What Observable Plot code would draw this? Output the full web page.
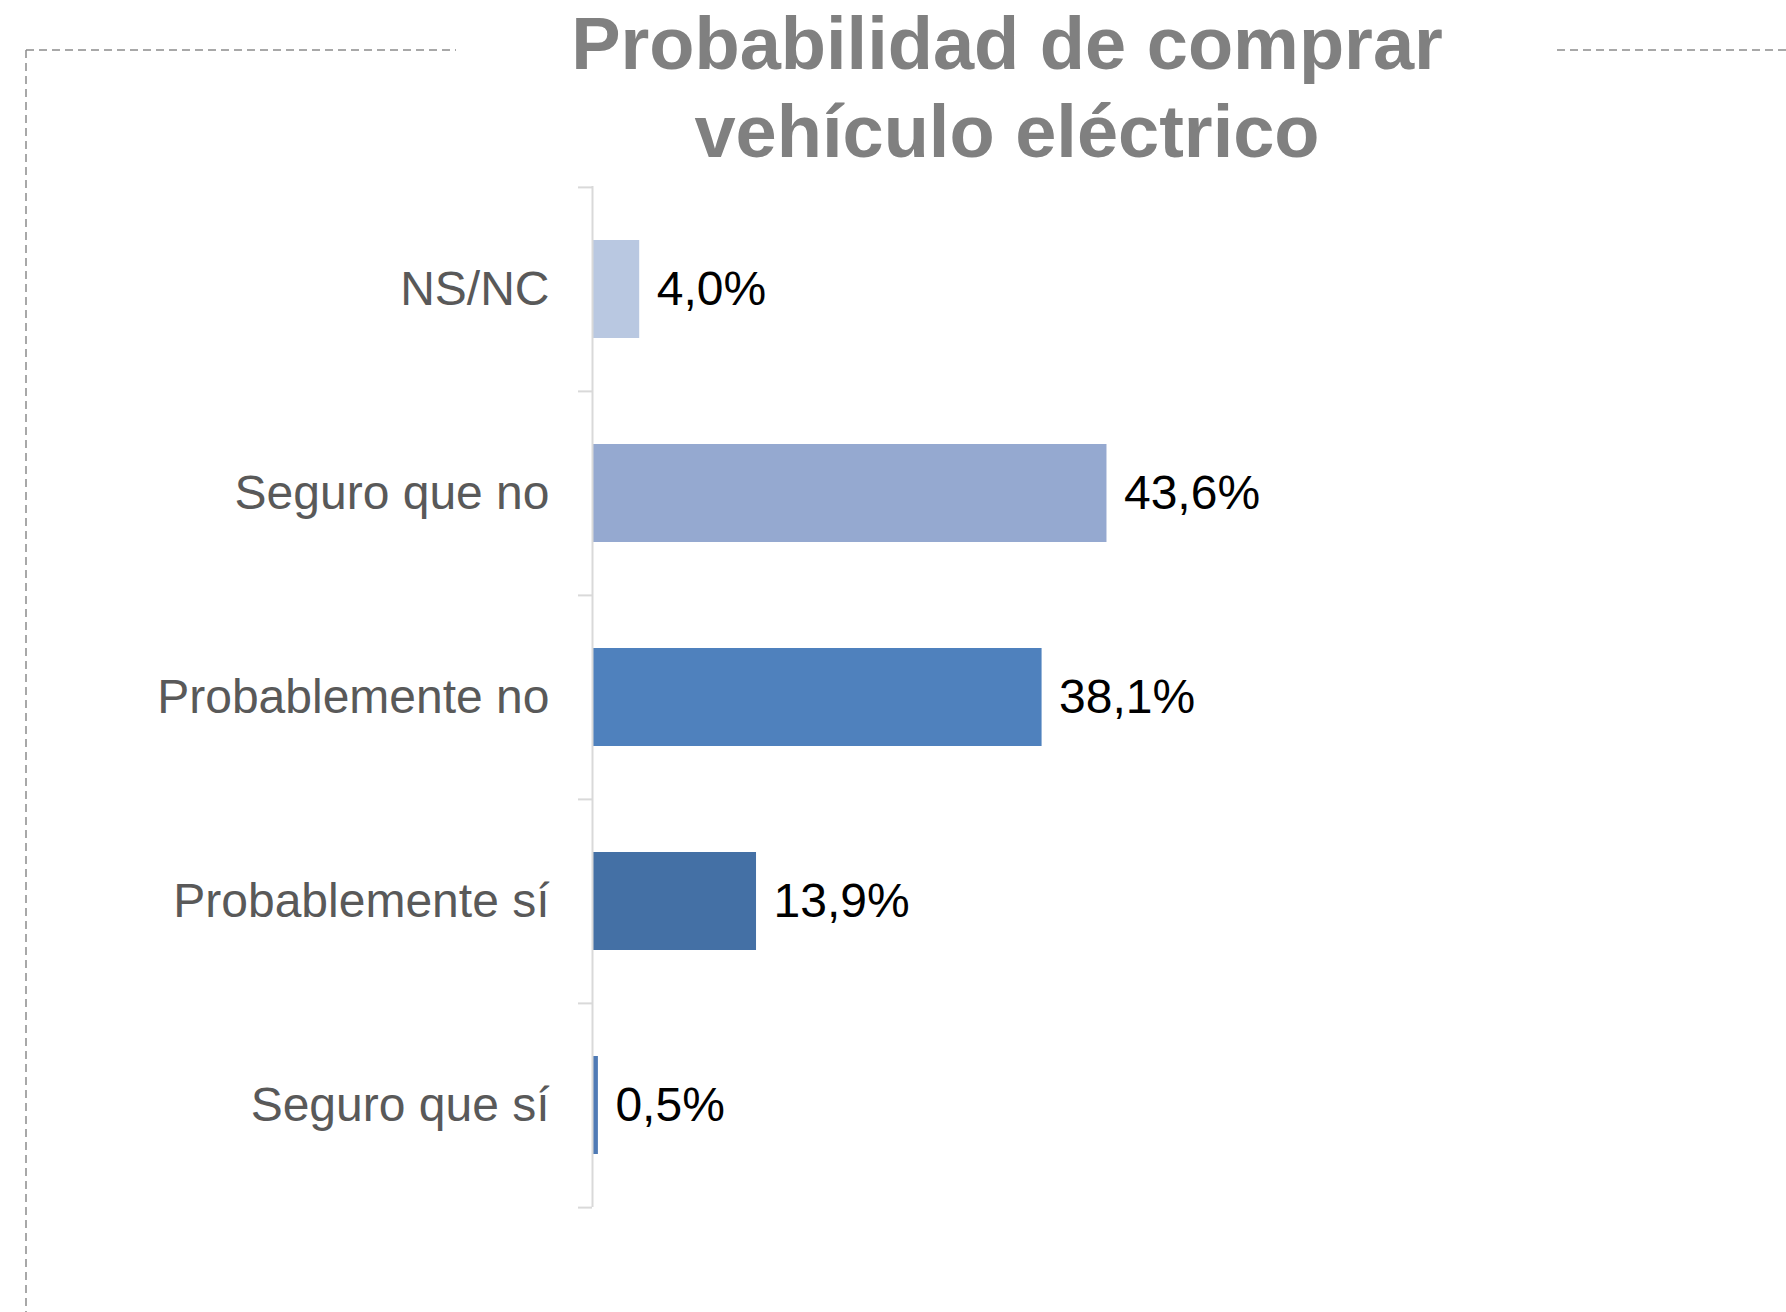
<!DOCTYPE html>
<html>
<head>
<meta charset="utf-8">
<script src="https://cdn.jsdelivr.net/npm/d3@7"></script>
<script src="https://cdn.jsdelivr.net/npm/@observablehq/plot@0.6"></script>
<style>
  html, body { margin: 0; padding: 0; background: #fff; }
  #wrap { position: relative; width: 1786px; height: 1312px; overflow: hidden; font-family: "Liberation Sans", Arial, sans-serif; }
  #frame { position: absolute; left: 0; top: 0; }
  #chart { position: absolute; left: 0; top: 0; }
  #title { position: absolute; top: 0; left: 507px; width: 1000px; text-align: center; font-weight: bold; font-size: 74px; line-height: 88px; color: #808080; }
</style>
</head>
<body>
<div id="wrap">
  <svg id="frame" width="1786" height="1312">
    <g fill="none" stroke="#8c8c8c" stroke-width="1.5" stroke-dasharray="8 5">
      <line x1="26" y1="50" x2="456" y2="50"></line>
      <line x1="1557" y1="50" x2="1786" y2="50"></line>
      <line x1="26" y1="50" x2="26" y2="1312"></line>
    </g>
  </svg>
  <div id="chart"></div>
  <div id="title">Probabilidad de comprar<br>vehículo eléctrico</div>
</div>
<script>
const categories = ["NS/NC", "Seguro que no", "Probablemente no", "Probablemente sí", "Seguro que sí"];
const values = [4.0, 43.6, 38.1, 13.9, 0.5];
const colors = ["#b9c8e1", "#95a9d0", "#4f81bd", "#4470a5", "#4f7ab5"];

const data = categories.map((c, i) => ({category: c, value: values[i], color: colors[i]}));

const W = 1786, H = 1312, mT = 186, mB = 105, mL = 592, mR = 14, xMax = 100;
const step = (H - mT - mB) / categories.length;
const pxPerUnit = (W - mL - mR) / xMax;
const fmt = v => v.toFixed(1).replace(".", ",") + "%";

const chart = Plot.plot({
  width: W,
  height: H,
  marginTop: mT,
  marginBottom: mB,
  marginLeft: mL,
  marginRight: mR,
  style: {fontFamily: "Liberation Sans, Arial, sans-serif", fontSize: "48px", color: "#595959", background: "transparent"},
  x: {domain: [0, xMax], axis: null},
  y: {domain: categories, padding: 0},
  marks: [
    Plot.barX(data, {x: "value", y: "category", fill: "color", insetTop: 53, insetBottom: 53}),
    Plot.ruleX([0], {stroke: "#d9d9d9", strokeWidth: 2}),
    Plot.ruleY(categories, {y: d => d, x1: -14 / pxPerUnit, x2: 0, dy: -step / 2, stroke: "#d9d9d9", strokeWidth: 2}),
    Plot.ruleY([categories[categories.length - 1]], {y: d => d, x1: -14 / pxPerUnit, x2: 0, dy: step / 2, stroke: "#d9d9d9", strokeWidth: 2}),
    Plot.axisY({tickSize: 0, tickPadding: 43, fontSize: 48, fill: "#595959", label: null}),
    Plot.text(data, {x: "value", y: "category", text: d => fmt(d.value), textAnchor: "start", dx: 17, fill: "#000", fontSize: 48})
  ]
});
document.getElementById("chart").appendChild(chart);
</script>
</body>
</html>
